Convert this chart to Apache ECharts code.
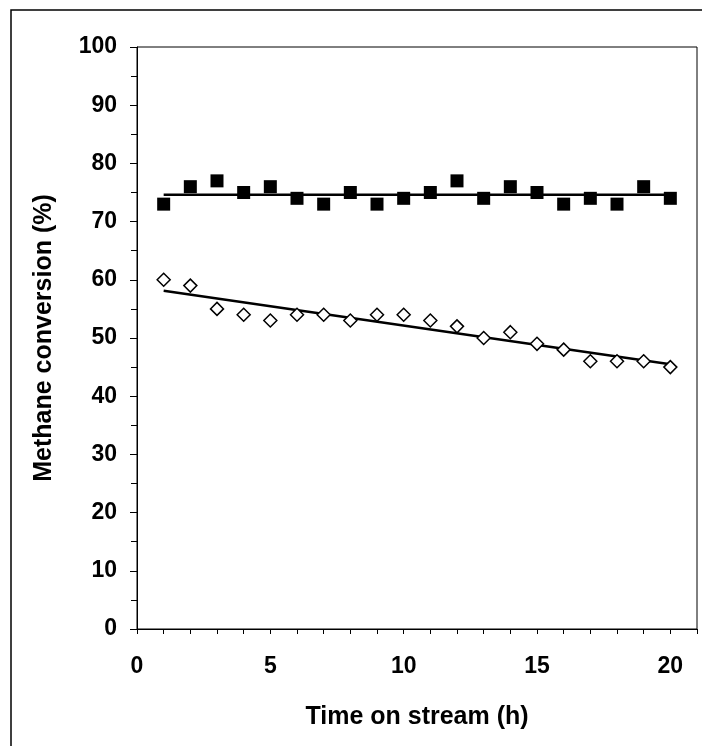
<!DOCTYPE html>
<html>
<head>
<meta charset="utf-8">
<script src="https://cdn.jsdelivr.net/npm/echarts@6/dist/echarts.min.js"></script>
<style>
html,body{margin:0;padding:0;background:#fff;}
#chart{width:702px;height:746px;}
</style>
</head>
<body>
<div id="chart"></div>
<script>
// Time on stream (h)
var hours = [1,2,3,4,5,6,7,8,9,10,11,12,13,14,15,16,17,18,19,20];
// Filled squares series
var squareValues = [73,76,77,75,76,74,73,75,73,74,75,77,74,76,75,73,74,73,76,74];
// Open diamonds series
var diamondValues = [60,59,55,54,53,54,54,53,54,54,53,52,50,51,49,48,46,46,46,45];
// Trend lines (endpoints)
var squareTrendX = [1, 20];
var squareTrendY = [74.6, 74.6];
var diamondTrendX = [1, 20];
var diamondTrendY = [58.1, 45.5];
// Axis ticks
var xMajorLabels = [0,5,10,15,20];

function pairs(xs, ys){ return xs.map(function(x,i){ return [x, ys[i]]; }); }

var chart = echarts.init(document.getElementById('chart'));
var fontFam = '"Liberation Sans", Arial, sans-serif';
chart.setOption({
  animation: false,
  backgroundColor: '#fff',
  graphic: [{
    type: 'rect',
    shape: {x: 11, y: 10, width: 800, height: 800},
    style: {fill: 'none', stroke: '#000', lineWidth: 1.5},
    silent: true
  }],
  grid: {
    left: 137, top: 47, right: 5, bottom: 117,
    show: true, borderColor: '#000', borderWidth: 1, backgroundColor: 'transparent'
  },
  xAxis: {
    type: 'value', min: 0, max: 21, interval: 1,
    name: 'Time on stream (h)', nameLocation: 'middle', nameGap: 76,
    nameTextStyle: {fontFamily: fontFam, fontWeight: 'bold', fontSize: 25, color: '#000'},
    axisLine: {show: true, lineStyle: {color: '#000', width: 1}},
    axisTick: {show: true, inside: false, length: 5, lineStyle: {color: '#000'}},
    axisLabel: {
      margin: 26, fontFamily: fontFam, fontWeight: 'bold', fontSize: 23, color: '#000',
      formatter: function(v){ return xMajorLabels.indexOf(v) >= 0 ? String(v) : ''; }
    },
    splitLine: {show: false}
  },
  yAxis: {
    type: 'value', min: 0, max: 100, interval: 10,
    name: 'Methane conversion (%)', nameLocation: 'middle', nameGap: 80,
    nameTextStyle: {fontFamily: fontFam, fontWeight: 'bold', fontSize: 25, color: '#000'},
    axisLine: {show: true, lineStyle: {color: '#000', width: 1}},
    axisTick: {show: true, inside: false, length: 7, lineStyle: {color: '#000'}},
    minorTick: {show: true, splitNumber: 2, length: 6, lineStyle: {color: '#000'}},
    axisLabel: {margin: 20, fontFamily: fontFam, fontWeight: 'bold', fontSize: 23, color: '#000'},
    splitLine: {show: false}
  },
  series: [
    {
      type: 'line', data: pairs(squareTrendX, squareTrendY), symbol: 'none',
      lineStyle: {color: '#000', width: 2.5}, z: 2
    },
    {
      type: 'line', data: pairs(diamondTrendX, diamondTrendY), symbol: 'none',
      lineStyle: {color: '#000', width: 2.5}, z: 2
    },
    {
      type: 'scatter', data: pairs(hours, squareValues), symbol: 'rect', symbolSize: 13,
      itemStyle: {color: '#000', opacity: 1}, z: 3
    },
    {
      type: 'scatter', data: pairs(hours, diamondValues), symbol: 'diamond', symbolSize: 13,
      itemStyle: {color: '#fff', borderColor: '#000', borderWidth: 1.5, opacity: 1}, z: 3
    }
  ]
});
</script>
</body>
</html>
